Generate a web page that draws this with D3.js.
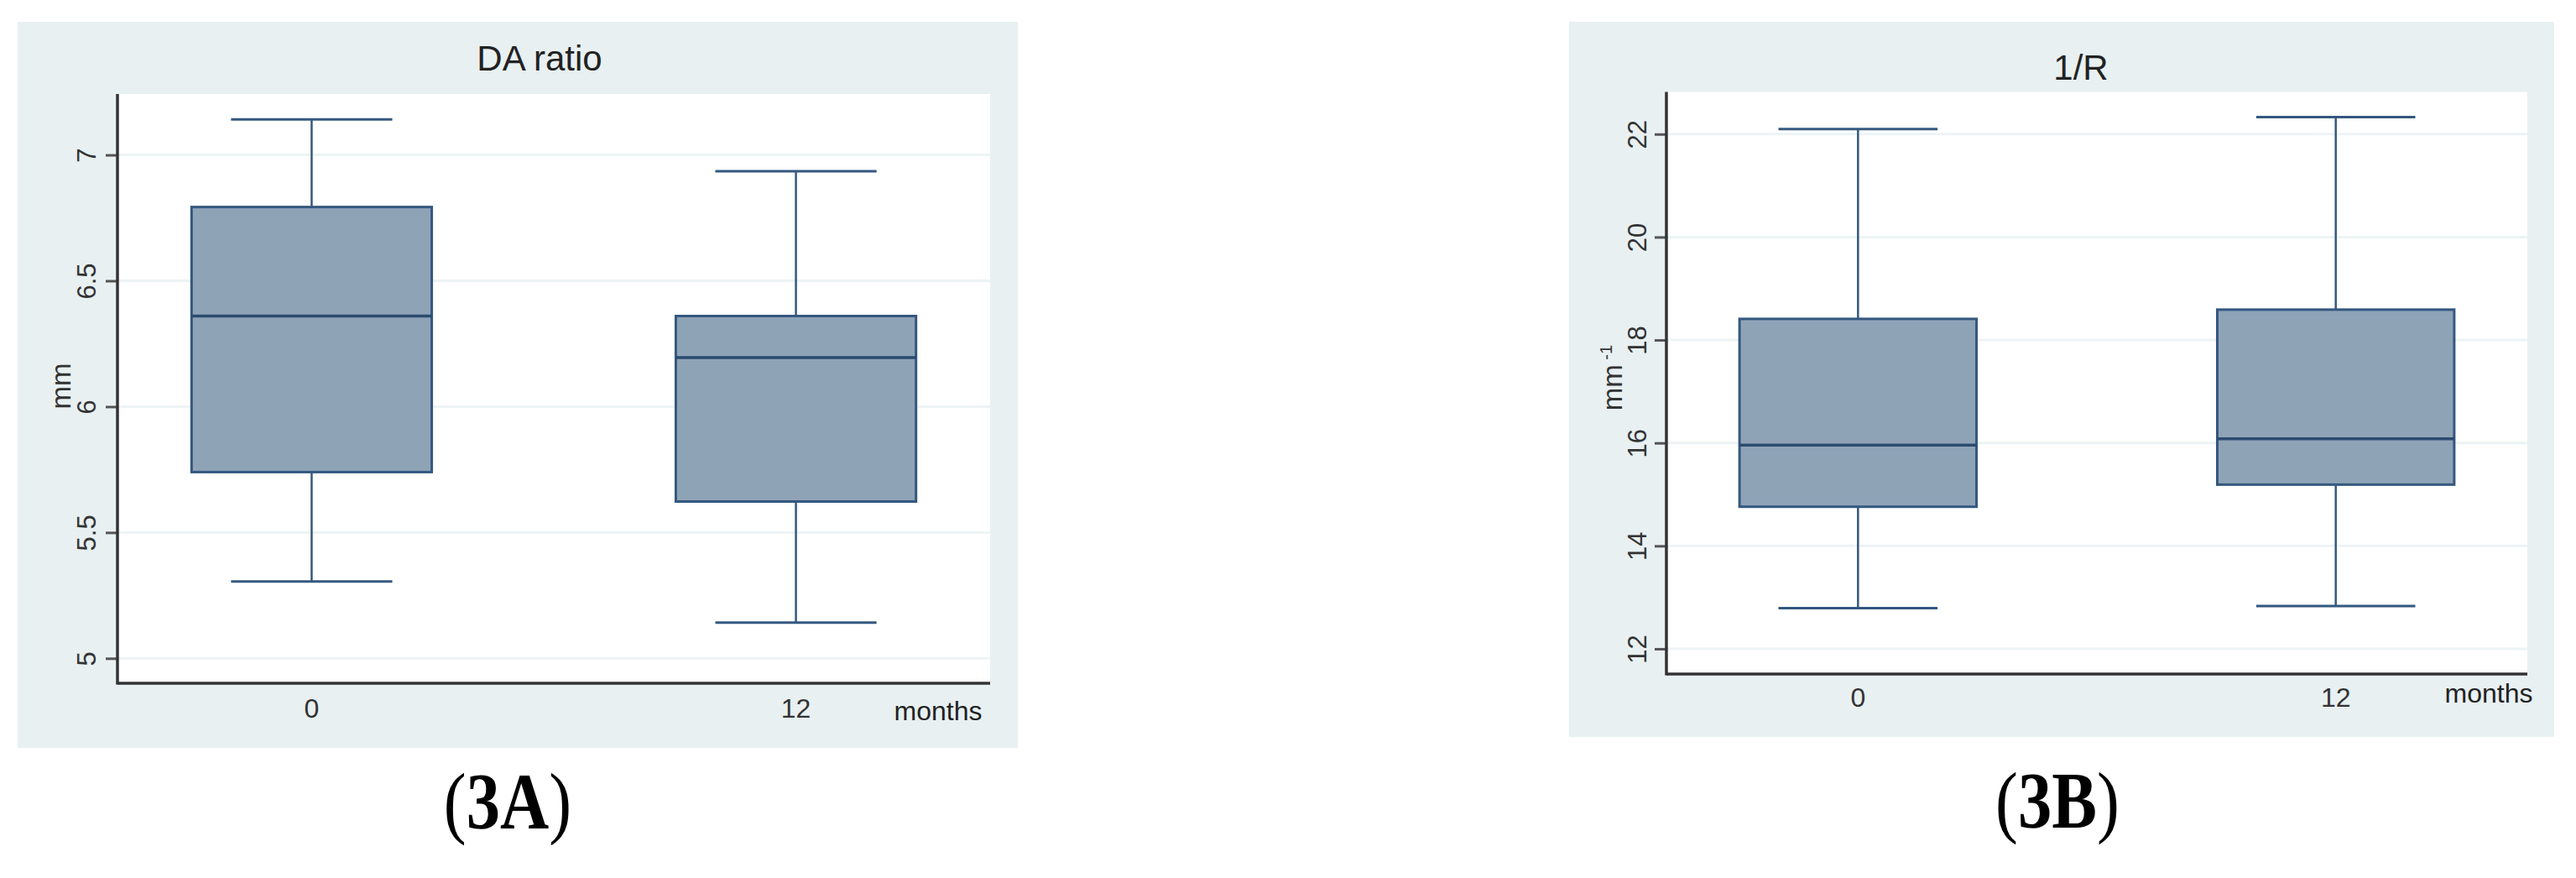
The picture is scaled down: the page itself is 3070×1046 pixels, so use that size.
<!DOCTYPE html>
<html>
<head>
<meta charset="utf-8">
<script src="https://cdn.jsdelivr.net/npm/d3@7"></script>
<style>
  html, body { margin: 0; padding: 0; background: #ffffff; }
  svg { display: block; }
</style>
</head>
<body>
<svg id="chart" width="3070" height="1046"></svg>
<script>
// ---------------- DATA ----------------
const categories = ["0", "12"];
const xAxisLabel = "months";

// Panel 3A : DA ratio (mm)
const daTitle = "DA ratio";
const daMin    = [5.305, 5.142];
const daQ1     = [5.740, 5.623];
const daMedian = [6.360, 6.195];
const daQ3     = [6.793, 6.360];
const daMax    = [7.141, 6.935];
const daTicks  = [5, 5.5, 6, 6.5, 7];
const daTickLabels = ["5", "5.5", "6", "6.5", "7"];

// Panel 3B : 1/R (mm^-1)
const invRTitle = "1/R";
const invRMin    = [12.79, 12.83];
const invRQ1     = [14.76, 15.19];
const invRMedian = [15.96, 16.08];
const invRQ3     = [18.41, 18.59];
const invRMax    = [22.10, 22.33];
const invRTicks  = [12, 14, 16, 18, 20, 22];
const invRTickLabels = ["12", "14", "16", "18", "20", "22"];

const panelCaptions = ["3A", "3B"];

// ---------------- STYLE ----------------
const BG = "#e8f0f2";
const FILL = "#8fa3b7";
const STROKE = "#34587f";
const GRID = "#edf3f5";
const AXIS = "#333333";
const FONT = "'Liberation Sans', Arial, sans-serif";

const svg = d3.select("#chart");

function drawPanel(cfg) {
  const g = svg.append("g");
  g.append("rect")
    .attr("x", cfg.bg[0]).attr("y", cfg.bg[1])
    .attr("width", cfg.bg[2] - cfg.bg[0]).attr("height", cfg.bg[3] - cfg.bg[1])
    .attr("fill", BG);
  g.append("rect")
    .attr("x", cfg.plot[0]).attr("y", cfg.plot[1])
    .attr("width", cfg.plot[2] - cfg.plot[0]).attr("height", cfg.plot[3] - cfg.plot[1])
    .attr("fill", "#ffffff");

  const x = d3.scalePoint().domain(categories)
    .range([cfg.plot[0], cfg.plot[2]]).padding(0.401);
  const y = d3.scaleLinear().domain(cfg.yDomain)
    .range([cfg.plot[3], cfg.plot[1]]);

  g.append("g").selectAll("line").data(cfg.ticks).join("line")
    .attr("x1", cfg.plot[0]).attr("x2", cfg.plot[2])
    .attr("y1", d => y(d)).attr("y2", d => y(d))
    .attr("stroke", GRID).attr("stroke-width", 3);

  const step = x.step();
  const boxW = step * 0.496;
  const capW = step * 0.333;

  const rows = categories.map((c, i) => ({
    c, min: cfg.min[i], q1: cfg.q1[i], med: cfg.med[i], q3: cfg.q3[i], max: cfg.max[i]
  }));

  const bx = g.append("g").selectAll("g").data(rows).join("g");
  bx.append("line")
    .attr("x1", d => x(d.c)).attr("x2", d => x(d.c))
    .attr("y1", d => y(d.q3)).attr("y2", d => y(d.max))
    .attr("stroke", STROKE).attr("stroke-width", 2.5);
  bx.append("line")
    .attr("x1", d => x(d.c)).attr("x2", d => x(d.c))
    .attr("y1", d => y(d.q1)).attr("y2", d => y(d.min))
    .attr("stroke", STROKE).attr("stroke-width", 2.5);
  bx.append("line")
    .attr("x1", d => x(d.c) - capW / 2).attr("x2", d => x(d.c) + capW / 2)
    .attr("y1", d => y(d.max)).attr("y2", d => y(d.max))
    .attr("stroke", STROKE).attr("stroke-width", 3);
  bx.append("line")
    .attr("x1", d => x(d.c) - capW / 2).attr("x2", d => x(d.c) + capW / 2)
    .attr("y1", d => y(d.min)).attr("y2", d => y(d.min))
    .attr("stroke", STROKE).attr("stroke-width", 3);
  bx.append("rect")
    .attr("x", d => x(d.c) - boxW / 2).attr("width", boxW)
    .attr("y", d => y(d.q3)).attr("height", d => y(d.q1) - y(d.q3))
    .attr("fill", FILL).attr("stroke", STROKE).attr("stroke-width", 3);
  bx.append("line")
    .attr("x1", d => x(d.c) - boxW / 2).attr("x2", d => x(d.c) + boxW / 2)
    .attr("y1", d => y(d.med)).attr("y2", d => y(d.med))
    .attr("stroke", "#2b4b70").attr("stroke-width", 3.5);

  const yAxis = d3.axisLeft(y).tickValues(cfg.ticks)
    .tickFormat((d, i) => cfg.tickLabels[i]).tickSize(14).tickPadding(0);
  const ya = g.append("g").attr("transform", `translate(${cfg.plot[0]},0)`).call(yAxis);
  ya.select(".domain").remove();
  ya.selectAll(".tick line").attr("stroke", "#555555").attr("stroke-width", 3);
  ya.selectAll(".tick text").remove();
  ya.selectAll(".tick").append("text")
    .attr("transform", `translate(${-cfg.tickLabelOffset},0) rotate(-90)`)
    .attr("text-anchor", "middle").attr("dy", "0.35em")
    .attr("fill", "#333333")
    .style("font-family", FONT).style("font-size", "31px")
    .text((d, i) => cfg.tickLabels[i]);

  g.append("line")
    .attr("x1", cfg.plot[0]).attr("x2", cfg.plot[0])
    .attr("y1", cfg.plot[1]).attr("y2", cfg.plot[3] + 1.5)
    .attr("stroke", AXIS).attr("stroke-width", 3.5);
  g.append("line")
    .attr("x1", cfg.plot[0]).attr("x2", cfg.plot[2])
    .attr("y1", cfg.plot[3]).attr("y2", cfg.plot[3])
    .attr("stroke", AXIS).attr("stroke-width", 3.5);

  g.append("g").selectAll("text").data(categories).join("text")
    .attr("x", d => x(d)).attr("y", cfg.xLabelY)
    .attr("text-anchor", "middle").attr("fill", "#333333")
    .style("font-family", FONT).style("font-size", "32px")
    .text(d => d);
  g.append("text")
    .attr("x", cfg.monthsX).attr("y", cfg.monthsY)
    .attr("text-anchor", "middle").attr("fill", "#222222")
    .style("font-family", FONT).style("font-size", "32px")
    .text(xAxisLabel);

  g.append("text")
    .attr("x", cfg.titleX).attr("y", cfg.titleY)
    .attr("text-anchor", "middle").attr("fill", "#222222")
    .style("font-family", FONT).style("font-size", "42px")
    .text(cfg.title);

  const yt = g.append("text")
    .attr("transform", `translate(${cfg.yTitleX},${cfg.yTitleY}) rotate(-90)`)
    .attr("text-anchor", "middle").attr("fill", "#333333")
    .style("font-family", FONT).style("font-size", "33px");
  yt.append("tspan").text(cfg.yTitle);
  if (cfg.yTitleSup) {
    yt.append("tspan").attr("dy", "-0.6em").style("font-size", "20px").text(" " + cfg.yTitleSup);
  }

  // caption: thin tall parentheses around bold text
  const cap = svg.append("text")
    .attr("transform", `translate(${cfg.captionX},${cfg.captionY}) scale(0.84,1)`)
    .attr("text-anchor", "middle").attr("fill", "#000000")
    .style("font-family", "'Liberation Serif', 'Times New Roman', serif")
    .style("font-size", "96px");
  cap.append("tspan").style("font-weight", "normal").text("(");
  cap.append("tspan").style("font-weight", "bold").text(cfg.caption);
  cap.append("tspan").style("font-weight", "normal").text(")");
}

drawPanel({
  bg: [21, 26, 1213, 891],
  plot: [140, 112, 1180, 814],
  yDomain: [4.901, 7.242],
  ticks: daTicks, tickLabels: daTickLabels,
  min: daMin, q1: daQ1, med: daMedian, q3: daQ3, max: daMax,
  tickLabelOffset: 37,
  xLabelY: 855, monthsX: 1118, monthsY: 858,
  title: daTitle, titleX: 643, titleY: 84,
  yTitle: "mm", yTitleSup: null, yTitleX: 84, yTitleY: 460,
  caption: panelCaptions[0], captionX: 605, captionY: 987
});

drawPanel({
  bg: [1870, 26, 3044, 878],
  plot: [1986, 109.5, 3012, 803],
  yDomain: [11.51, 22.82],
  ticks: invRTicks, tickLabels: invRTickLabels,
  min: invRMin, q1: invRQ1, med: invRMedian, q3: invRQ3, max: invRMax,
  tickLabelOffset: 35,
  xLabelY: 842, monthsX: 2966, monthsY: 837,
  title: invRTitle, titleX: 2480, titleY: 95,
  yTitle: "mm", yTitleSup: "-1", yTitleX: 1933, yTitleY: 450,
  caption: panelCaptions[1], captionX: 2452, captionY: 986
});
</script>
</body>
</html>
